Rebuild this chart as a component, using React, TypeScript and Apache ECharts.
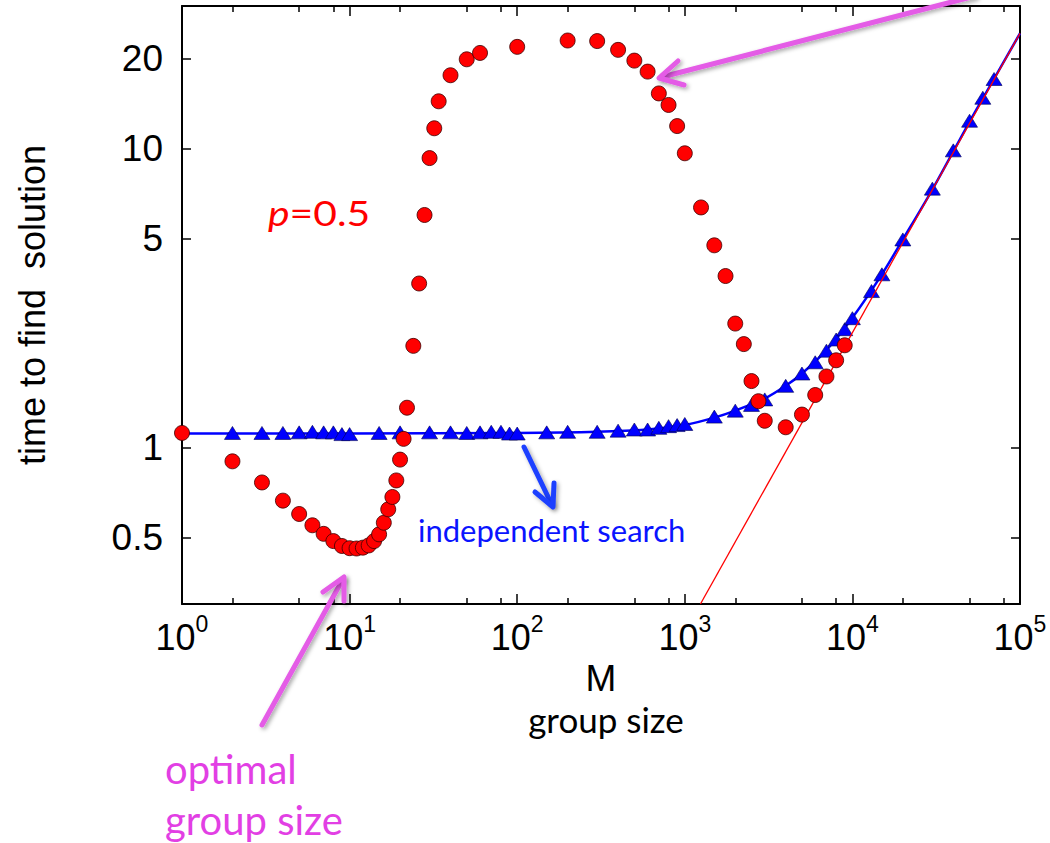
import React, { useEffect, useRef } from 'react';
import * as echarts from 'echarts';

// ---- data ----
const redM = [1, 2, 3, 4, 5, 6, 7, 8, 9, 10, 11, 12, 13, 14, 15, 16, 17, 18, 19, 20, 21, 22, 24, 26, 28, 30, 32, 34, 40, 50, 60, 100, 200, 300, 400, 500, 600, 700, 800, 900, 1000, 1250, 1500, 1750, 2000, 2250, 2500, 2750, 3000, 4000, 5000, 6000, 7000, 8000, 9000];
const redT = [1.12, 0.9, 0.765, 0.665, 0.6, 0.55, 0.515, 0.487, 0.469, 0.461, 0.46, 0.463, 0.471, 0.487, 0.513, 0.561, 0.622, 0.684, 0.777, 0.912, 1.07, 1.36, 2.19, 3.54, 6.0, 9.3, 11.7, 14.4, 17.6, 19.9, 20.9, 21.9, 23.0, 22.9, 21.4, 19.7, 18.1, 15.3, 14.0, 11.9, 9.65, 6.36, 4.75, 3.75, 2.6, 2.22, 1.67, 1.43, 1.23, 1.17, 1.29, 1.5, 1.73, 1.96, 2.2];

const blueM = [2, 3, 4, 5, 6, 7, 8, 9, 10, 15, 20, 30, 40, 50, 60, 70, 80, 90, 100, 150, 200, 300, 400, 500, 600, 700, 800, 900, 1000, 1500, 2000, 2500, 3000, 4000, 5000, 6000, 7000, 8000, 9000, 10000, 13000, 15000, 20000, 30000, 40000, 50000, 60000, 70000];
const blueT = [1.12, 1.12, 1.12, 1.125, 1.13, 1.125, 1.125, 1.11, 1.11, 1.12, 1.125, 1.125, 1.125, 1.12, 1.125, 1.13, 1.13, 1.115, 1.115, 1.125, 1.13, 1.13, 1.14, 1.15, 1.15, 1.165, 1.18, 1.19, 1.2, 1.27, 1.33, 1.39, 1.45, 1.61, 1.77, 1.93, 2.11, 2.3, 2.49, 2.71, 3.34, 3.8, 4.97, 7.35, 9.87, 12.4, 14.8, 17.1];

const curveM = [1, 10, 100, 300, 600, 1000, 1500, 2000, 3000, 4000, 5000, 7000, 10000, 15000, 20000, 30000, 50000, 70000, 100000];
const curveT = [1.115, 1.115, 1.12, 1.13, 1.15, 1.19, 1.26, 1.33, 1.46, 1.61, 1.77, 2.12, 2.72, 3.8, 4.97, 7.3, 12.3, 17.1, 24.3];

const asymM = [1240, 100000];
const asymT = [0.3, 24.3];

const majorX = [1, 10, 100, 1000, 10000, 100000];
const minorX = [2, 5, 8, 20, 50, 80, 200, 500, 800, 2000, 5000, 8000, 20000, 50000, 80000];
const yTicks = [0.5, 1, 5, 10, 20];

const pairs = (xs: number[], ys: number[]) => xs.map((x, i) => [x, ys[i]]);

const MAGENTA = '#e45ce6';
const MAGENTA_TXT = '#e23fe4';
const SHADOW = { shadowBlur: 4, shadowColor: 'rgba(0,0,0,0.35)', shadowOffsetX: 2, shadowOffsetY: 2 };

export default function App() {
  const ref = useRef<HTMLDivElement>(null);
  useEffect(() => {
    const chart = echarts.init(ref.current!, null, { renderer: 'svg' });
    const xCommon = { type: 'log', logBase: 10, min: 1, max: 100000, splitLine: { show: false }, minorTick: { show: false }, minorSplitLine: { show: false } };
    const yCommon = { type: 'log', logBase: 10, min: 0.3, max: 30, splitLine: { show: false }, minorTick: { show: false }, minorSplitLine: { show: false } };
    const frame = { show: true, onZero: false, lineStyle: { color: '#000', width: 2 } };
    const option: any = {
      animation: false,
      backgroundColor: '#fff',
      grid: { left: 182, right: 30, top: 6, bottom: 239, containLabel: false, outerBoundsMode: 'none' },
      xAxis: [
        {
          ...xCommon,
          position: 'bottom',
          axisLine: frame,
          axisTick: { show: true, inside: true, length: 10, customValues: majorX, lineStyle: { color: '#000', width: 1.5 } },
          axisLabel: {
            show: true,
            customValues: majorX,
            margin: 8,
            formatter: (v: number) => `{b|10}{s|${Math.round(Math.log10(v))}}`,
            rich: {
              b: { fontSize: 36, fontFamily: 'Liberation Sans', color: '#000', lineHeight: 43, verticalAlign: 'bottom' },
              s: { fontSize: 23, fontFamily: 'Liberation Sans', color: '#000', lineHeight: 24, verticalAlign: 'top' },
            },
          },
          name: 'M',
          nameLocation: 'middle',
          nameGap: 36,
          nameTextStyle: { fontSize: 37, fontFamily: 'Liberation Sans', color: '#000' },
        },
        {
          ...xCommon,
          position: 'bottom',
          axisLine: { show: false, onZero: false },
          axisTick: { show: true, inside: true, length: 6, customValues: minorX, lineStyle: { color: '#000', width: 1.5 } },
          axisLabel: { show: false },
        },
        {
          ...xCommon,
          position: 'top',
          axisLine: frame,
          axisTick: { show: true, inside: true, length: 10, customValues: majorX, lineStyle: { color: '#000', width: 1.5 } },
          axisLabel: { show: false },
        },
        {
          ...xCommon,
          position: 'top',
          axisLine: { show: false, onZero: false },
          axisTick: { show: true, inside: true, length: 6, customValues: minorX, lineStyle: { color: '#000', width: 1.5 } },
          axisLabel: { show: false },
        },
      ],
      yAxis: [
        {
          ...yCommon,
          position: 'left',
          axisLine: frame,
          axisTick: { show: true, inside: true, length: 9, customValues: yTicks, lineStyle: { color: '#000', width: 1.5 } },
          axisLabel: {
            show: true,
            customValues: yTicks,
            margin: 19,
            fontSize: 37,
            fontFamily: 'Liberation Sans',
            color: '#000',
            formatter: (v: number) => String(v),
          },
          name: 'time to find  solution',
          nameLocation: 'middle',
          nameGap: 132,
          nameRotate: 90,
          nameTextStyle: { fontSize: 36, fontFamily: 'Liberation Sans', color: '#000' },
        },
        {
          ...yCommon,
          position: 'right',
          axisLine: frame,
          axisTick: { show: true, inside: true, length: 9, customValues: yTicks, lineStyle: { color: '#000', width: 1.5 } },
          axisLabel: { show: false },
        },
      ],
      series: [
        {
          type: 'line',
          name: 'theory',
          data: pairs(curveM, curveT),
          smooth: 0.3,
          showSymbol: false,
          symbol: 'none',
          lineStyle: { color: '#0000ff', width: 2.5 },
          z: 2,
        },
        {
          type: 'scatter',
          name: 'independent search',
          data: pairs(blueM, blueT),
          symbol: 'triangle',
          symbolSize: [16, 13],
          itemStyle: { color: '#0000ff', borderColor: '#000050', borderWidth: 0.6, opacity: 1 },
          z: 3,
        },
        {
          type: 'line',
          name: 'asymptote',
          data: pairs(asymM, asymT),
          showSymbol: false,
          symbol: 'none',
          lineStyle: { color: '#ff0000', width: 1.3 },
          z: 4,
        },
        {
          type: 'scatter',
          name: 'p=0.5',
          data: pairs(redM, redT),
          symbol: 'circle',
          symbolSize: 15,
          itemStyle: { color: '#ff0000', borderColor: '#3a0000', borderWidth: 0.8, opacity: 1 },
          z: 5,
        },
      ],
      graphic: [
        // top arrow
        { type: 'line', shape: { x1: 975, y1: -4, x2: 662, y2: 77 }, style: { stroke: MAGENTA, lineWidth: 5, lineCap: 'round', ...SHADOW }, z: 10 },
        { type: 'polyline', shape: { points: [[678, 61], [659, 78], [684, 85]] }, style: { stroke: MAGENTA, lineWidth: 5, lineCap: 'round', lineJoin: 'round', fill: null, ...SHADOW }, z: 10 },
        // bottom arrow
        { type: 'line', shape: { x1: 262, y1: 725, x2: 343, y2: 579 }, style: { stroke: MAGENTA, lineWidth: 5, lineCap: 'round', ...SHADOW }, z: 10 },
        { type: 'polyline', shape: { points: [[323, 592], [344, 577], [344, 601]] }, style: { stroke: MAGENTA, lineWidth: 5, lineCap: 'round', lineJoin: 'round', fill: null, ...SHADOW }, z: 10 },
        // blue arrow
        { type: 'line', shape: { x1: 524, y1: 447, x2: 552, y2: 505 }, style: { stroke: '#1f40ff', lineWidth: 5, lineCap: 'round', ...SHADOW }, z: 10 },
        { type: 'polyline', shape: { points: [[535, 492], [553, 507], [554, 483]] }, style: { stroke: '#1f40ff', lineWidth: 5, lineCap: 'round', lineJoin: 'round', fill: null, ...SHADOW }, z: 10 },
        // texts
        {
          type: 'text', x: 268, y: 213, z: 10, scaleX: 1.2,
          style: {
            text: '{i|p}{r|=0.5}', verticalAlign: 'middle',
            rich: {
              i: { fontSize: 34, fontFamily: 'Lato', fontStyle: 'italic', fill: '#ff0000' },
              r: { fontSize: 34, fontFamily: 'Lato', fill: '#ff0000' },
            },
          },
        },
        { type: 'text', x: 418, y: 530, z: 10, style: { text: 'independent search', fontSize: 31, fontFamily: 'Lato', fill: '#0a14ff', verticalAlign: 'middle' } },
        { type: 'text', x: 606, y: 719, z: 10, style: { text: 'group size', fontSize: 35, fontFamily: 'Lato', fill: '#000', align: 'center', verticalAlign: 'middle' } },
        { type: 'text', x: 165, y: 769, z: 10, style: { text: 'optimal', fontSize: 40, fontFamily: 'Lato', fill: MAGENTA_TXT, verticalAlign: 'middle' } },
        { type: 'text', x: 165, y: 820, z: 10, style: { text: 'group size', fontSize: 40, fontFamily: 'Lato', fill: MAGENTA_TXT, verticalAlign: 'middle' } },
      ],
    };
    chart.setOption(option);
    return () => chart.dispose();
  }, []);
  return <div ref={ref} style={{ position: 'fixed', left: 0, top: 0, width: 1050, height: 843, background: '#fff' }} />;
}
